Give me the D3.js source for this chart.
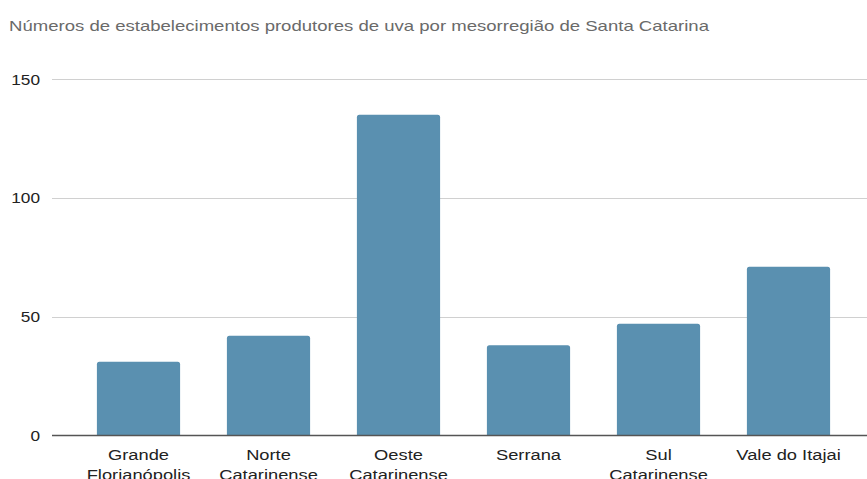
<!DOCTYPE html>
<html><head><meta charset="utf-8">
<script src="https://cdn.jsdelivr.net/npm/d3@7"></script>
<style>body{margin:0;background:#fff;}svg{display:block;font-family:"Liberation Sans",Arial,sans-serif;}</style>
</head><body>
<svg id="c" width="867" height="479"></svg>
<script>
const title = "Números de estabelecimentos produtores de uva por mesorregião de Santa Catarina";
const categories = ["Grande Florianópolis","Norte Catarinense","Oeste Catarinense","Serrana","Sul Catarinense","Vale do Itajaí"];
const categoryLines = [["Grande","Florianópolis"],["Norte","Catarinense"],["Oeste","Catarinense"],["Serrana"],["Sul","Catarinense"],["Vale do Itajai"]];
const values = [31, 42, 135, 38, 47, 71];
const yTicks = [0, 50, 100, 150];

const svg = d3.select("#c");
const x = d3.scaleBand().domain(categories).range([73.5, 853.5]).paddingInner(0.36).paddingOuter(0.18);
const y = d3.scaleLinear().domain([0, 150]).range([435.5, 79]);

svg.append("text").attr("transform", "translate(9,31) scale(1.28,1)")
  .attr("font-size", 14.5).attr("fill", "#6a6a6a").text(title);

// gridlines
svg.append("g").selectAll("line").data(yTicks.filter(d => d > 0)).join("line")
  .attr("x1", 52).attr("x2", 867).attr("y1", d => Math.round(y(d)) + 0.5).attr("y2", d => Math.round(y(d)) + 0.5)
  .attr("stroke", "#d0d0d0").attr("stroke-width", 1.2);

// y labels
svg.append("g").selectAll("text").data(yTicks).join("text")
  .attr("transform", d => `translate(40,${y(d) + 5.5}) scale(1.15,1)`).attr("text-anchor", "end")
  .attr("font-size", 15).attr("fill", "#222").text(d => d);

// bars
svg.append("g").selectAll("path").data(values).join("path")
  .attr("fill", "#5a90b0")
  .attr("d", (d, i) => {
    const x0 = x(categories[i]), w = x.bandwidth(), y0 = y(d), y1 = y(0), r = 2.5;
    return `M${x0},${y1}V${y0 + r}Q${x0},${y0} ${x0 + r},${y0}H${x0 + w - r}Q${x0 + w},${y0} ${x0 + w},${y0 + r}V${y1}Z`;
  });

// baseline
svg.append("line").attr("x1", 52).attr("x2", 867).attr("y1", y(0)).attr("y2", y(0))
  .attr("stroke", "#555").attr("stroke-width", 1.5);

// x labels
const xl = svg.append("g").selectAll("text").data(categories).join("text")
  .attr("transform", d => `translate(${x(d) + x.bandwidth() / 2},460) scale(1.22,1)`)
  .attr("text-anchor", "middle").attr("font-size", 15).attr("fill", "#222");
xl.each(function(d, i) {
  d3.select(this).selectAll("tspan").data(categoryLines[i]).join("tspan")
    .attr("x", 0).attr("dy", (t, j) => j === 0 ? 0 : 20).text(t => t);
});
</script>
</body></html>
